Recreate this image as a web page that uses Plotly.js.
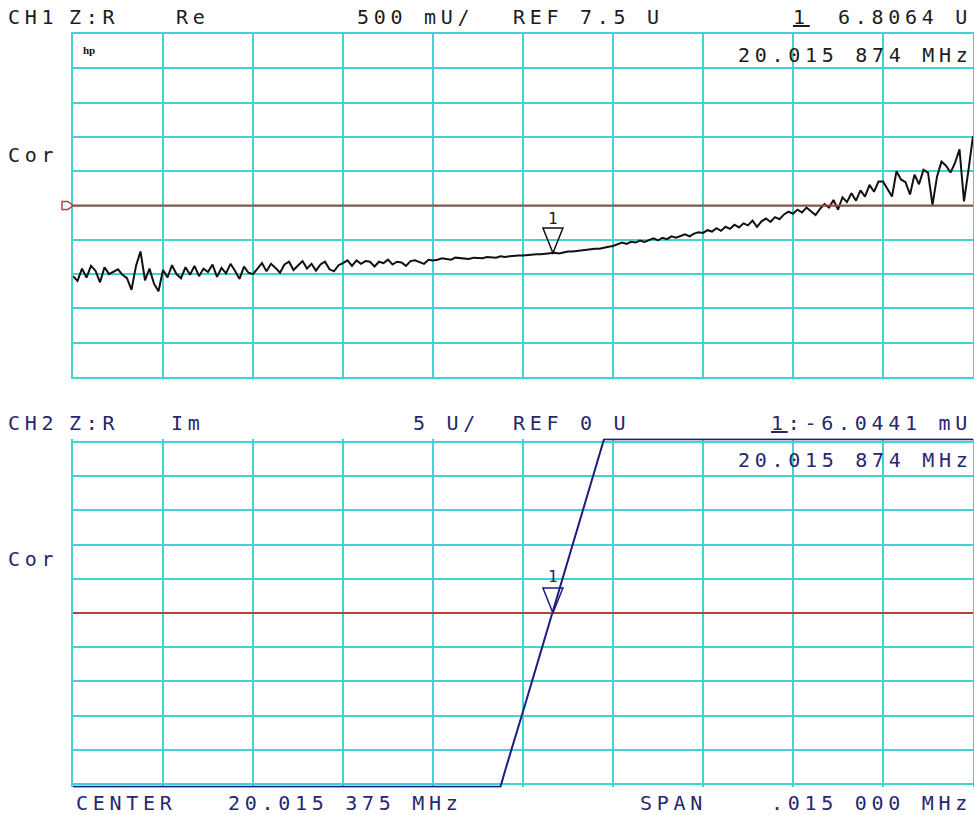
<!DOCTYPE html>
<html><head><meta charset="utf-8">
<script src="https://cdn.plot.ly/plotly-3.0.1.min.js"></script>
<style>
html,body{margin:0;padding:0;background:#fff;}
#chart{width:974px;height:815px;}
text.annotation-text{letter-spacing:4.7px;}
</style></head><body><div id="chart"></div>
<script>
// ---- instrument settings ----
const CENTER_MHZ = 20.015375;
const SPAN_MHZ = 0.015;
const ch1Ref = 7.5, ch1Scale = 0.5;   // U, U/div
const ch2Ref = 0,   ch2Scale = 5;     // U, U/div

// ---- CH1: Z:R Re (U), 201 sweep points ----
const ch1Values = [
 6.47,6.40,6.58,6.45,6.62,6.55,6.38,6.60,6.50,6.53,6.57,6.49,6.44,6.27,6.62,6.83,6.41,6.58,6.36,6.25,
 6.56,6.45,6.63,6.50,6.44,6.60,6.49,6.62,6.47,6.58,6.53,6.64,6.46,6.59,6.51,6.65,6.55,6.43,6.61,6.52,
 6.50,6.58,6.66,6.54,6.65,6.59,6.52,6.64,6.68,6.56,6.62,6.69,6.58,6.65,6.55,6.64,6.68,6.57,6.54,6.63,
 6.66,6.70,6.62,6.70,6.65,6.69,6.68,6.61,6.68,6.66,6.71,6.64,6.68,6.67,6.62,6.69,6.70,6.67,6.65,6.71,
 6.70,6.71,6.73,6.72,6.71,6.74,6.73,6.72,6.72,6.74,6.73,6.73,6.75,6.74,6.74,6.76,6.75,6.76,6.77,6.77,
 6.77,6.78,6.78,6.79,6.79,6.80,6.80,6.81,6.80,6.82,6.83,6.83,6.84,6.85,6.85,6.86,6.87,6.87,6.89,6.90,
 6.91,6.93,6.96,6.94,6.97,6.96,6.99,6.97,7.00,7.02,6.99,7.03,7.01,7.05,7.03,7.06,7.08,7.05,7.09,7.11,
 7.10,7.14,7.12,7.17,7.13,7.19,7.16,7.22,7.18,7.24,7.21,7.28,7.19,7.27,7.31,7.26,7.33,7.30,7.37,7.41,
 7.38,7.44,7.40,7.47,7.42,7.36,7.45,7.52,7.47,7.58,7.44,7.62,7.55,7.68,7.57,7.72,7.63,7.80,7.70,7.85,
 7.85,7.73,7.63,8.00,7.88,7.84,7.66,7.95,7.81,8.02,7.98,7.51,7.92,8.14,8.08,7.98,8.12,8.32,7.56,8.02,8.51
];

// ---- CH2: Z:R Im (U), 201 sweep points (display clips just past +/-5 div) ----
const ch2Values = [
 -25.4,-25.4,-25.4,-25.4,-25.4,-25.4,-25.4,-25.4,-25.4,-25.4,-25.4,-25.4,-25.4,-25.4,-25.4,-25.4,-25.4,-25.4,-25.4,-25.4,
 -25.4,-25.4,-25.4,-25.4,-25.4,-25.4,-25.4,-25.4,-25.4,-25.4,-25.4,-25.4,-25.4,-25.4,-25.4,-25.4,-25.4,-25.4,-25.4,-25.4,
 -25.4,-25.4,-25.4,-25.4,-25.4,-25.4,-25.4,-25.4,-25.4,-25.4,-25.4,-25.4,-25.4,-25.4,-25.4,-25.4,-25.4,-25.4,-25.4,-25.4,
 -25.4,-25.4,-25.4,-25.4,-25.4,-25.4,-25.4,-25.4,-25.4,-25.4,-25.4,-25.4,-25.4,-25.4,-25.4,-25.4,-25.4,-25.4,-25.4,-25.4,
 -25.4,-25.4,-25.4,-25.4,-25.4,-25.4,-25.4,-25.4,-25.4,-25.4,-25.4,-25.4,-25.4,-25.4,-25.4,-25.4,
 -23.1,-21.0,-18.8,-16.6,-14.4,-12.2,-10.0,-7.8,-5.6,-3.4,-1.2,1.0,3.2,5.4,7.6,9.8,12.0,14.2,16.4,18.6,20.8,23.0,
 25.4,25.4,25.4,25.4,25.4,25.4,25.4,25.4,25.4,25.4,25.4,25.4,25.4,25.4,25.4,25.4,25.4,25.4,25.4,25.4,
 25.4,25.4,25.4,25.4,25.4,25.4,25.4,25.4,25.4,25.4,25.4,25.4,25.4,25.4,25.4,25.4,25.4,25.4,25.4,25.4,
 25.4,25.4,25.4,25.4,25.4,25.4,25.4,25.4,25.4,25.4,25.4,25.4,25.4,25.4,25.4,25.4,25.4,25.4,25.4,25.4,
 25.4,25.4,25.4,25.4,25.4,25.4,25.4,25.4,25.4,25.4,25.4,25.4,25.4,25.4,25.4,25.4,25.4,25.4,25.4,25.4,
 25.4,25.4,25.4
];

// ---- marker 1 ----
const markerFreq = [20.015874];
const ch1Marker = [6.8064];
const ch2Marker = [-0.0060441];

// ---- header / footer texts ----
const ch1Texts = ['CH1', 'Z:R', 'Re', '500 mU/', 'REF 7.5 U', '<u>1</u>', '6.8064 U', '20.015 874 MHz', 'Cor'];
const ch2Texts = ['CH2', 'Z:R', 'Im', '5 U/', 'REF 0 U', '<u>1</u>:-6.0441 mU', '20.015 874 MHz', 'Cor'];
const footTexts = ['CENTER', '20.015 375 MHz', 'SPAN', '.015 000 MHz'];

// ------------------------------------------------------------
const START = CENTER_MHZ - SPAN_MHZ / 2, STOP = CENTER_MHZ + SPAN_MHZ / 2;
const sweep = n => Array.from({length: n}, (_, i) => START + SPAN_MHZ * i / (n - 1));

const W = 974, H = 815;
const px = x => x / W, py = y => 1 - y / H;

const GRID = '#43d2cf', REDC = '#b5403e', INK1 = '#1c1c1c', INK2 = '#27276e', TR2 = '#1d1d7e';
const FONT = 'DejaVu Sans Mono';

const traces = [
  {x: sweep(ch1Values.length), y: ch1Values, xaxis: 'x', yaxis: 'y', type: 'scatter', mode: 'lines',
   line: {color: '#111111', width: 2}, hoverinfo: 'skip'},
  {x: sweep(ch2Values.length), y: ch2Values, xaxis: 'x2', yaxis: 'y2', type: 'scatter', mode: 'lines',
   line: {color: TR2, width: 2}, hoverinfo: 'skip'}
];

const xbase = {range: [START, STOP], tick0: START, dtick: SPAN_MHZ / 10, showticklabels: false, ticks: '',
  showgrid: true, gridcolor: GRID, gridwidth: 2, zeroline: false, fixedrange: true,
  domain: [px(73), px(973)]};
const c2pad = 0.1 * ch2Scale;

const layout = {
  width: W, height: H, margin: {l: 0, r: 0, t: 0, b: 0},
  paper_bgcolor: '#ffffff', plot_bgcolor: '#ffffff', showlegend: false,
  xaxis: Object.assign({}, xbase, {anchor: 'y', showline: true, mirror: true, linecolor: GRID, linewidth: 2}),
  yaxis: {anchor: 'x', domain: [py(377), py(34)], range: [ch1Ref - 5 * ch1Scale, ch1Ref + 5 * ch1Scale],
    tick0: ch1Ref, dtick: ch1Scale, showticklabels: false, ticks: '', showgrid: true, gridcolor: GRID, gridwidth: 2,
    zeroline: false, showline: true, mirror: true, linecolor: GRID, linewidth: 2},
  xaxis2: Object.assign({}, xbase, {anchor: 'y2', showline: false}),
  yaxis2: {anchor: 'x2', domain: [py(787.4), py(438.6)],
    range: [ch2Ref - 5 * ch2Scale - c2pad, ch2Ref + 5 * ch2Scale + c2pad],
    tick0: ch2Ref, dtick: ch2Scale, showticklabels: false, ticks: '', showgrid: true, gridcolor: GRID, gridwidth: 2,
    zeroline: false, showline: true, mirror: true, linecolor: GRID, linewidth: 2},
  shapes: [
    {type: 'line', xref: 'x domain', yref: 'y', x0: 0, x1: 1, y0: ch1Ref, y1: ch1Ref,
     line: {color: REDC, width: 2}},
    {type: 'line', xref: 'x2 domain', yref: 'y2', x0: 0, x1: 1, y0: ch2Ref, y1: ch2Ref,
     line: {color: REDC, width: 2}},
    {type: 'path', xref: 'paper', yref: 'y', xsizemode: 'pixel', ysizemode: 'pixel', xanchor: px(73), yanchor: ch1Ref,
     path: 'M-11,4 L-5,4 L0,0 L-5,-4 L-11,-4 Z', line: {color: REDC, width: 1.5}, fillcolor: 'rgba(0,0,0,0)'},
    {type: 'path', xref: 'x', yref: 'y', xsizemode: 'pixel', ysizemode: 'pixel', xanchor: markerFreq[0], yanchor: ch1Marker[0],
     path: 'M-10,25 L10,25 L0,0 Z', line: {color: '#111111', width: 1.5}, fillcolor: 'rgba(0,0,0,0)'},
    {type: 'path', xref: 'x2', yref: 'y2', xsizemode: 'pixel', ysizemode: 'pixel', xanchor: markerFreq[0], yanchor: ch2Marker[0],
     path: 'M-10,25 L10,25 L0,0 Z', line: {color: TR2, width: 1.5}, fillcolor: 'rgba(0,0,0,0)'}
  ],
  annotations: []
};

function txt(x, y, text, color, size, extra) {
  layout.annotations.push(Object.assign({xref: 'paper', yref: 'paper', x: px(x), y: py(y), text: text,
    showarrow: false, xanchor: 'left', yanchor: 'middle', borderpad: 0,
    font: {family: FONT, size: size || 20, color: color}}, extra || {}));
}
const RIGHT = {xanchor: 'right'};
// CH1 header  (positions: [x px, y px, right-anchored?])
[[7, 17.5], [68, 17.5], [175, 17.5], [356, 17.5], [512, 17.5], [792, 17.5], [973, 17.5, 1], [973, 54.5, 1], [7, 154.5]]
  .forEach((p, i) => txt(p[0], p[1], ch1Texts[i], INK1, 20, p[2] ? RIGHT : null));
// CH2 header
[[7, 423], [68, 423], [170, 423], [412, 423], [512, 423], [973, 423, 1], [973, 460, 1], [7, 558.5]]
  .forEach((p, i) => txt(p[0], p[1], ch2Texts[i], INK2, 20, p[2] ? RIGHT : null));
// footer
[[75, 802.5], [227, 802.5], [639, 802.5], [973, 802.5, 1]]
  .forEach((p, i) => txt(p[0], p[1], footTexts[i], INK2, 20, p[2] ? RIGHT : null));
// hp logo
txt(82, 50, '<span style="letter-spacing:0px"><b>hp</b></span>', '#111111', 11,
  {font: {family: 'Liberation Sans Narrow', size: 11, color: '#111111'}});
// marker labels
layout.annotations.push({xref: 'x', yref: 'y', x: markerFreq[0], y: ch1Marker[0], xshift: 2, yshift: 35, text: '1',
  showarrow: false, xanchor: 'center', yanchor: 'middle', font: {family: FONT, size: 16, color: INK1}});
layout.annotations.push({xref: 'x2', yref: 'y2', x: markerFreq[0], y: ch2Marker[0], xshift: 2, yshift: 37, text: '1',
  showarrow: false, xanchor: 'center', yanchor: 'middle', font: {family: FONT, size: 16, color: TR2}});

Plotly.newPlot('chart', traces, layout, {staticPlot: true});
</script></body></html>
